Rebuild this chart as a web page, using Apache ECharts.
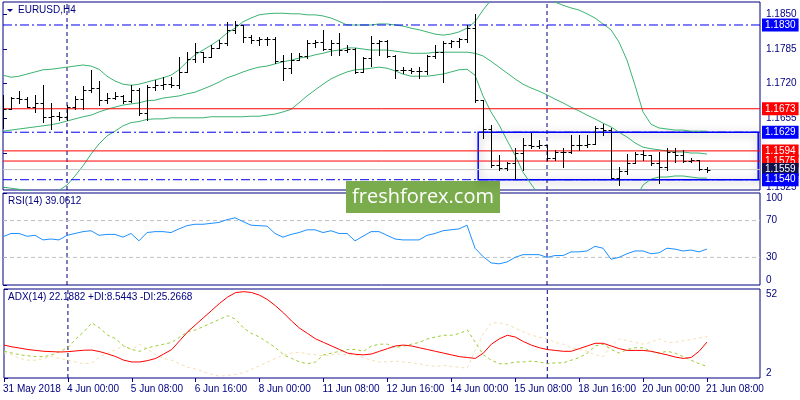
<!DOCTYPE html>
<html><head><meta charset="utf-8">
<script src="https://cdn.jsdelivr.net/npm/echarts@6/dist/echarts.min.js"></script>
<style>html,body{margin:0;padding:0;background:#fff}#c{width:800px;height:400px}</style>
</head><body><div id="c"></div>
<script>
const opens=[1.1689,1.1672,1.1693,1.1691,1.1676,1.1684,1.1658,1.1659,1.1658,1.1676,
1.1691,1.1708,1.1712,1.1689,1.1693,1.1697,1.1688,1.1708,1.1665,1.1714,
1.1717,1.1719,1.1717,1.1742,1.1766,1.1779,1.1770,1.1787,1.1796,1.1821,
1.1830,1.1807,1.1802,1.1804,1.1804,1.1762,1.1749,1.1764,1.1772,1.1796,
1.1798,1.1785,1.1796,1.1783,1.1785,1.1742,1.1768,1.1796,1.1800,1.1772,
1.1746,1.1746,1.1744,1.1744,1.1772,1.1779,1.1796,1.1800,1.1804,1.1824,
1.1689,1.1635,1.1568,1.1562,1.1571,1.1590,1.1605,1.1603,1.1605,1.1581,
1.1592,1.1592,1.1605,1.1605,1.1607,1.1637,1.1633,1.1543,1.1556,1.1571,
1.1588,1.1586,1.1571,1.1564,1.1592,1.1586,1.1575,1.1577,1.1560];
const highs=[1.1699,1.1695,1.1706,1.1695,1.1699,1.1717,1.1684,1.1667,1.1680,1.1697,
1.1716,1.1746,1.1725,1.1702,1.1704,1.1699,1.1717,1.1712,1.1717,1.1727,
1.1732,1.1732,1.1770,1.1779,1.1796,1.1779,1.1792,1.1802,1.1836,1.1837,
1.1830,1.1811,1.1807,1.1807,1.1807,1.1774,1.1777,1.1777,1.1802,1.1802,
1.1821,1.1802,1.1815,1.1792,1.1787,1.1770,1.1809,1.1802,1.1802,1.1774,
1.1751,1.1749,1.1751,1.1774,1.1792,1.1800,1.1802,1.1806,1.1830,1.1851,
1.1689,1.1643,1.1586,1.1573,1.1599,1.1618,1.1628,1.1614,1.1605,1.1596,
1.1599,1.1624,1.1624,1.1624,1.1641,1.1644,1.1637,1.1564,1.1588,1.1592,
1.1596,1.1586,1.1592,1.1599,1.1599,1.1596,1.1581,1.1577,1.1564];
const lows=[1.1637,1.1672,1.1684,1.1676,1.1667,1.1648,1.1635,1.1652,1.1652,1.1672,
1.1672,1.1704,1.1680,1.1684,1.1691,1.1684,1.1686,1.1661,1.1652,1.1708,
1.1710,1.1714,1.1712,1.1742,1.1761,1.1761,1.1770,1.1787,1.1792,1.1815,
1.1798,1.1796,1.1792,1.1792,1.1759,1.1727,1.1740,1.1764,1.1768,1.1789,
1.1783,1.1774,1.1774,1.1779,1.1740,1.1742,1.1753,1.1774,1.1770,1.1731,
1.1740,1.1740,1.1731,1.1738,1.1768,1.1723,1.1789,1.1789,1.1798,1.1686,
1.1618,1.1564,1.1558,1.1558,1.1541,1.1558,1.1599,1.1599,1.1577,1.1577,
1.1564,1.1590,1.1596,1.1601,1.1607,1.1624,1.1543,1.1530,1.1551,1.1571,
1.1577,1.1568,1.1534,1.1558,1.1573,1.1573,1.1573,1.1558,1.1554];
const closes=[1.1672,1.1693,1.1691,1.1676,1.1684,1.1658,1.1659,1.1658,1.1676,1.1691,
1.1708,1.1712,1.1689,1.1693,1.1697,1.1688,1.1708,1.1665,1.1714,1.1717,
1.1719,1.1717,1.1742,1.1766,1.1779,1.1770,1.1787,1.1796,1.1821,1.1830,
1.1807,1.1802,1.1804,1.1804,1.1762,1.1749,1.1764,1.1772,1.1796,1.1798,
1.1785,1.1796,1.1783,1.1785,1.1742,1.1768,1.1796,1.1800,1.1772,1.1746,
1.1746,1.1744,1.1744,1.1772,1.1779,1.1796,1.1800,1.1804,1.1824,1.1689,
1.1635,1.1568,1.1562,1.1571,1.1590,1.1605,1.1603,1.1605,1.1581,1.1592,
1.1592,1.1605,1.1605,1.1607,1.1637,1.1633,1.1543,1.1556,1.1571,1.1588,
1.1586,1.1571,1.1564,1.1592,1.1586,1.1575,1.1577,1.1560,1.1559];
const bbUpper=[1.1736,1.1732,1.1734,1.1738,1.1742,1.1746,1.1747,1.1749,1.1751,1.1753,
1.1755,1.1753,1.1747,1.1734,1.1725,1.1719,1.1717,1.1719,1.1723,1.1727,
1.1731,1.1736,1.1746,1.1761,1.1774,1.1783,1.1792,1.1802,1.1815,1.1824,
1.1836,1.1843,1.1849,1.1851,1.1852,1.1852,1.1851,1.1851,1.1849,1.1849,
1.1847,1.1843,1.1837,1.1830,1.1830,1.1830,1.1830,1.1832,1.1832,1.1830,
1.1828,1.1824,1.1821,1.1817,1.1813,1.1811,1.1813,1.1817,1.1824,1.1836,
1.1858,1.1877,1.1896,1.1905,1.1905,1.1903,1.1899,1.1892,1.1882,1.1873,
1.1867,1.1862,1.1858,1.1851,1.1843,1.1832,1.1821,1.1798,1.1764,1.1717,
1.1667,1.1644,1.1637,1.1635,1.1633,1.1633,1.1631,1.1631,1.1631];
const bbMiddle=[1.1631,1.1633,1.1635,1.1637,1.1639,1.1641,1.1643,1.1646,1.1650,1.1654,
1.1658,1.1661,1.1667,1.1672,1.1676,1.1680,1.1682,1.1684,1.1688,1.1689,
1.1693,1.1695,1.1697,1.1701,1.1704,1.1710,1.1716,1.1723,1.1731,1.1736,
1.1742,1.1747,1.1751,1.1753,1.1757,1.1761,1.1764,1.1768,1.1770,1.1774,
1.1777,1.1781,1.1783,1.1787,1.1787,1.1785,1.1783,1.1783,1.1783,1.1781,
1.1779,1.1777,1.1777,1.1777,1.1779,1.1779,1.1779,1.1779,1.1779,1.1777,
1.1772,1.1762,1.1751,1.1740,1.1729,1.1719,1.1712,1.1706,1.1699,1.1691,
1.1684,1.1676,1.1669,1.1661,1.1654,1.1646,1.1639,1.1629,1.1620,1.1609,
1.1601,1.1598,1.1596,1.1594,1.1592,1.1592,1.1590,1.1590,1.1588];
const bbLower=[1.1526,1.1524,1.1522,1.1520,1.1518,1.1517,1.1517,1.1520,1.1530,1.1547,
1.1566,1.1588,1.1607,1.1622,1.1631,1.1641,1.1647,1.1649,1.1653,1.1654,
1.1654,1.1656,1.1656,1.1656,1.1656,1.1656,1.1658,1.1658,1.1658,1.1658,
1.1658,1.1659,1.1659,1.1661,1.1663,1.1667,1.1672,1.1684,1.1697,1.1708,
1.1719,1.1729,1.1736,1.1742,1.1746,1.1747,1.1749,1.1751,1.1749,1.1744,
1.1738,1.1734,1.1734,1.1734,1.1736,1.1738,1.1742,1.1746,1.1747,1.1736,
1.1697,1.1667,1.1643,1.1614,1.1586,1.1554,1.1532,1.1511,1.1493,1.1479,
1.1468,1.1460,1.1455,1.1449,1.1446,1.1444,1.1446,1.1453,1.1474,1.1502,
1.1530,1.1541,1.1545,1.1545,1.1547,1.1547,1.1545,1.1543,1.1543];
const rsi=[52.5,56,56,53,54,49,50,49,54,56,
58,59,54,55,55,52,56,48,57,58,
58,57,61,64.5,66,66,67,68,71,73,
69,65,64.5,64,56,52,55,57,60,60,
57,59,56,56,48,53,58,58,54,50,
49,49,49,54,56,59,60,61,65,40,
31,24,23,25,30,33,33,33,30,32,
32,36,36,37,42,40,28,30,34,37,
37,34,35,40,39,37,38,36,39.06];
const adx=[20.5,19.5,18.8,18,17.5,17,16.8,16.6,16.8,17.2,
17.6,17.7,16.8,15.5,14,12,11,11,11.8,13,
15.5,18,23,28,32,36,40,44,47.5,50,
50.5,50,48.5,46,42.5,38.5,34,30,27,24,
22,20,18,16,15.3,15,15.5,17,18.5,20,
20.5,20,19,18,17,16,15,14,13.5,13,
16,21,24,26,25,22.5,20.5,19,18,17.5,
17,17,18.5,20,21.5,21.5,20,18.5,17.5,17.5,
17.5,17,16,15,13.8,13,13.5,17,22.19];
const plusDI=[17,16,15,14.5,14,14,15,17,19,24,
28,33,30,26,24,20,18,17,19,20,
21,22,25,28,29,31,33,35,37,35,
30,27,25,22,19,15,13,11,10,11,
15,16,17,18,18,17,20,21,21,19,
20,21,22,24,25,26,26,27,29,22,
15,12,10,10,11,11,11.5,11,10,10.5,
10.5,12,13.5,16,20,21,18,16,18,19,
19,17,16,17,16,14,12,10,8.54];
const minusDI=[16,15,13,12,12,13,14,13,12,11,
10,10.5,14,16,18,20,18,21,18,15,
13,12,10,8,7,5.5,4,3,3.5,4,
5,7,9,11,13,15,16,16.5,15.5,15,
14.5,15,15.5,15,15,13.5,12,11,11,11.5,
11,10.5,10,9,8.5,9,8.5,8,7.5,18,
27,33,33,32,30,28,26,25,24,22,
21,19,18,17,15,14,20,24,23,22,
21,22,24,22,22,23,23.5,24.5,25.27];
const xTickLabels=['31 May 2018','4 Jun 00:00','5 Jun 08:00','6 Jun 16:00','8 Jun 00:00','11 Jun 08:00','12 Jun 16:00','14 Jun 00:00','15 Jun 08:00','18 Jun 16:00','20 Jun 00:00','21 Jun 08:00'];
const xTickBars=[0,8,16,24,32,40,48,56,64,72,80,88];
const priceTicks=[1.1850,1.1785,1.1720,1.1655,1.1590,1.1525];
const rsiTicks=[0,30,70,100];
const rsiLevels=[70,30];
const adxTicks=[2,52];
const levelPrices=[1.1830,1.1673,1.1629,1.1594,1.1575,1.1559,1.1540];
const levelKinds=['blue','red','blue','red','red','bid','blue'];
const boxBars=[59.4,94.4];
const boxPrices=[1.1629,1.1540];
const vLineBars=[8,68];
const priceRange=[1.15207,1.18731];
const barRange=[0,94.625];

const NAVY='#000080';
const FONT='"Liberation Sans", Arial, sans-serif';
const idx=opens.map((_,i)=>i);
const pair=arr=>idx.map(i=>[i,arr[i]]);
const ohlc=idx.map(i=>[i,opens[i],highs[i],lows[i],closes[i]]);
const yRanges=[priceRange,[rsiTicks[0],rsiTicks[3]],[adxTicks[0],adxTicks[1]]];

const chart=echarts.init(document.getElementById('c'),null,{renderer:'canvas'});
const grids=[{left:3,top:2,width:757,height:188},{left:3,top:193,width:757,height:92},{left:3,top:289,width:757,height:89}];
const xAxes=[0,1,2].map(g=>({
  type:'value',gridIndex:g,min:barRange[0],max:barRange[1],
  show:g===2,
  axisLine:{show:false},splitLine:{show:false},
  axisTick:{show:true,customValues:xTickBars,length:4,lineStyle:{color:NAVY}},
  axisLabel:{customValues:xTickBars,formatter:v=>xTickLabels[xTickBars.indexOf(Math.round(v))]||'',
    align:'left',color:NAVY,fontSize:10,fontFamily:FONT,margin:6,padding:[0,0,0,-1]}
}));
const yCommon={position:'right',axisLine:{show:false},splitLine:{show:false}};
const yAxes=[
  Object.assign({},yCommon,{type:'value',gridIndex:0,min:priceRange[0],max:priceRange[1],
    axisTick:{show:true,length:4,customValues:priceTicks,lineStyle:{color:NAVY}},
    axisLabel:{customValues:priceTicks,formatter:v=>v.toFixed(4),color:NAVY,fontSize:10,fontFamily:FONT,margin:6}}),
  Object.assign({},yCommon,{type:'value',gridIndex:1,min:yRanges[1][0],max:yRanges[1][1],
    axisTick:{show:true,length:4,customValues:rsiTicks,lineStyle:{color:NAVY}},
    axisLabel:{customValues:rsiTicks,color:NAVY,fontSize:10,fontFamily:FONT,margin:6,
      formatter:v=>v===100?'{t|100}':(v===0?'{b|0}':String(v)),
      rich:{t:{padding:[10,0,0,0],color:NAVY,fontSize:10,fontFamily:FONT},b:{padding:[0,0,10,0],color:NAVY,fontSize:10,fontFamily:FONT}}}}),
  Object.assign({},yCommon,{type:'value',gridIndex:2,min:adxTicks[0],max:adxTicks[1],
    axisTick:{show:true,length:4,customValues:adxTicks,lineStyle:{color:NAVY}},
    axisLabel:{customValues:adxTicks,color:NAVY,fontSize:10,fontFamily:FONT,margin:6,
      formatter:v=>v===52?'{t|52}':'{b|2}',
      rich:{t:{padding:[10,0,0,0],color:NAVY,fontSize:10,fontFamily:FONT},b:{padding:[0,0,10,0],color:NAVY,fontSize:10,fontFamily:FONT}}}})
];

function levelStyle(kind){
  if(kind==='red') return {line:{color:'#ff0000',width:1,type:'solid'},bg:'#ff0000'};
  if(kind==='bid') return {line:{color:'#c8c8c8',width:1,type:'solid'},bg:'#10104a'};
  return {line:{color:'#0000ee',width:1,type:[9,3,2,3]},bg:'#0000ff'};
}
const levelSeries=levelPrices.map((p,k)=>{
  const st=levelStyle(levelKinds[k]);
  return {type:'line',xAxisIndex:0,yAxisIndex:0,z:6+k,silent:true,symbol:'none',showSymbol:false,clip:false,
    data:[[barRange[0],p],[barRange[1],p]],
    lineStyle:st.line,
    endLabel:{show:true,formatter:p.toFixed(4),color:'#fff',distance:2,
      backgroundColor:st.bg,padding:[2,3,1,3],fontSize:10,fontFamily:FONT,lineHeight:10}};
});

const vSeries=[];
[0,1,2].forEach(g=>vLineBars.forEach(b=>vSeries.push({type:'line',xAxisIndex:g,yAxisIndex:g,silent:true,z:1,
  symbol:'none',showSymbol:false,data:[[b,yRanges[g][0]],[b,yRanges[g][1]]],
  lineStyle:{color:NAVY,type:[4,3],width:1}})));
const rsiLevelSeries=rsiLevels.map(v=>({type:'line',xAxisIndex:1,yAxisIndex:1,silent:true,z:2,symbol:'none',showSymbol:false,
  data:[[barRange[0],v],[barRange[1],v]],lineStyle:{color:'#c0c0c0',type:[4,3],width:1}}));

const option={
  animation:false,
  backgroundColor:'#fff',
  grid:grids.map(g=>Object.assign({},g,{show:true,borderColor:NAVY,borderWidth:1,backgroundColor:'transparent'})),
  xAxis:xAxes,yAxis:yAxes,
  series:[
    ...vSeries,
    ...rsiLevelSeries,
    {type:'line',xAxisIndex:0,yAxisIndex:0,data:[],silent:true,z:2,
      markArea:{silent:true,data:[[{xAxis:boxBars[0],yAxis:boxPrices[0]},{xAxis:boxBars[1],yAxis:boxPrices[1]}]],
        itemStyle:{color:'rgba(0,0,0,0)',borderColor:'#0000ff',borderWidth:1.5,shadowBlur:8,shadowColor:'rgba(0,0,0,0.4)',shadowOffsetX:1,shadowOffsetY:2}}},
    {name:'BBu',type:'line',xAxisIndex:0,yAxisIndex:0,data:pair(bbUpper),showSymbol:false,symbol:'none',lineStyle:{color:'#3cb371',width:1},z:3,clip:true},
    {name:'BBm',type:'line',xAxisIndex:0,yAxisIndex:0,data:pair(bbMiddle),showSymbol:false,symbol:'none',lineStyle:{color:'#3cb371',width:1},z:3,clip:true},
    {name:'BBl',type:'line',xAxisIndex:0,yAxisIndex:0,data:pair(bbLower),showSymbol:false,symbol:'none',lineStyle:{color:'#3cb371',width:1},z:3,clip:true},
    ...levelSeries,
    {name:'OHLC',type:'custom',xAxisIndex:0,yAxisIndex:0,data:ohlc,z:20,clip:true,
      renderItem:(params,api)=>{
        const x=api.value(0);
        const o=api.coord([x,api.value(1)]),h=api.coord([x,api.value(2)]),l=api.coord([x,api.value(3)]),c=api.coord([x,api.value(4)]);
        const px=Math.round(o[0])+0.5;
        const oy=Math.round(o[1])+0.5,cy=Math.round(c[1])+0.5;
        const st={stroke:'#000',lineWidth:1};
        return {type:'group',children:[
          {type:'line',shape:{x1:px,y1:Math.round(h[1]),x2:px,y2:Math.round(l[1])+1},style:st},
          {type:'line',shape:{x1:px-3,y1:oy,x2:px,y2:oy},style:st},
          {type:'line',shape:{x1:px,y1:cy,x2:px+3,y2:cy},style:st}
        ]};
      }},
    {name:'RSI',type:'line',xAxisIndex:1,yAxisIndex:1,data:pair(rsi),showSymbol:false,symbol:'none',lineStyle:{color:'#1e90ff',width:1},z:5},
    {name:'-DI',type:'line',xAxisIndex:2,yAxisIndex:2,data:pair(minusDI),showSymbol:false,symbol:'none',lineStyle:{color:'#f5deb3',width:1,type:[3,3]},z:4},
    {name:'+DI',type:'line',xAxisIndex:2,yAxisIndex:2,data:pair(plusDI),showSymbol:false,symbol:'none',lineStyle:{color:'#9acd32',width:1,type:[3,3]},z:4},
    {name:'ADX',type:'line',xAxisIndex:2,yAxisIndex:2,data:pair(adx),showSymbol:false,symbol:'none',lineStyle:{color:'#ff0000',width:1},z:5}
  ],
  graphic:[
    {type:'polygon',shape:{points:[[7,9],[13,9],[10,12]]},style:{fill:NAVY},z:50},
    {type:'text',x:18,y:10.5,style:{text:'EURUSD,H4',fill:NAVY,font:'10px '+FONT,verticalAlign:'middle'},z:50},
    {type:'text',x:8,y:201.5,style:{text:'RSI(14) 39.0612',fill:NAVY,font:'10px '+FONT,verticalAlign:'middle'},z:50},
    {type:'text',x:8,y:297,style:{text:'ADX(14) 22.1882 +DI:8.5443 -DI:25.2668',fill:NAVY,font:'10px '+FONT,verticalAlign:'middle'},z:50},
    {type:'group',z:60,children:[
      {type:'rect',shape:{x:346,y:181,width:154,height:32},style:{fill:'#7aab4c'}},
      {type:'text',x:423,y:197,style:{text:'freshforex.com',fill:'#fff',font:'20px "Open Sans", "Liberation Sans", sans-serif',align:'center',verticalAlign:'middle'}}
    ]}
  ]
};
chart.setOption(option);
</script></body></html>
